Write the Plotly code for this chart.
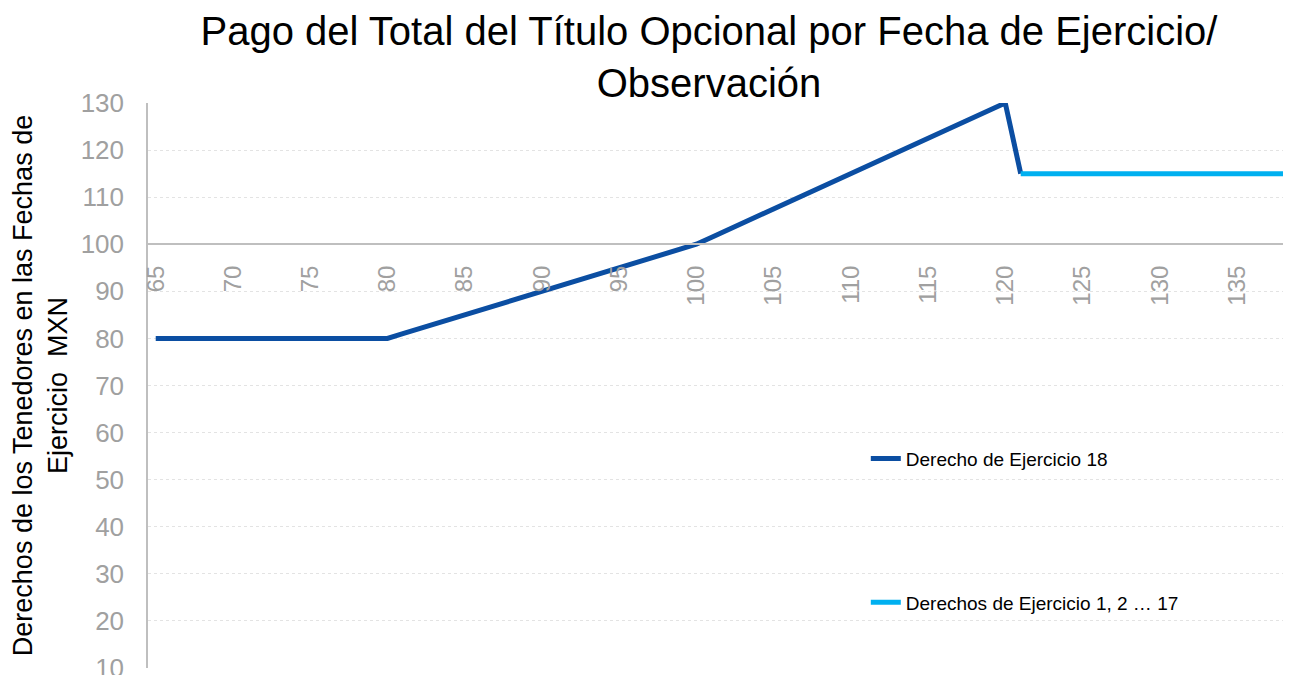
import plotly.graph_objects as go

# Data
x_dark = list(range(65, 122))
y_dark = ([80] * 16 + [81, 82, 83, 84, 85, 86, 87, 88, 89, 90, 91, 92, 93, 94, 95, 96, 97, 98, 99, 100]
          + [101.5, 103, 104.5, 106, 107.5, 109, 110.5, 112, 113.5, 115, 116.5, 118, 119.5, 121, 122.5,
             124, 125.5, 127, 128.5, 130] + [115])
x_light = list(range(121, 139))
y_light = [115] * 18
x_ticks = [65, 70, 75, 80, 85, 90, 95, 100, 105, 110, 115, 120, 125, 130, 135]
y_ticks = [10, 20, 30, 40, 50, 60, 70, 80, 90, 100, 110, 120, 130]

name_dark = "Derecho de Ejercicio 18"
name_light = "Derechos de Ejercicio 1, 2 … 17"

FONT = "Liberation Sans, Arial, sans-serif"
GRAY = "#a0a0a0"

fig = go.Figure()
fig.add_trace(go.Scatter(x=x_dark, y=y_dark, mode="lines", name=name_dark,
                         line=dict(color="#0B4EA2", width=5), legendgroup="a"))
fig.add_trace(go.Scatter(x=x_light, y=y_light, mode="lines", name=name_light,
                         line=dict(color="#00B0F0", width=5), legendgroup="b"))

W, H = 1283, 667
fig.update_layout(
    width=W, height=H, autosize=False,
    margin=dict(l=140, r=0, t=95, b=7, autoexpand=False),
    paper_bgcolor="white", plot_bgcolor="white",
    font=dict(family=FONT, color="black"),
    title=dict(text="Pago del Total del Título Opcional por Fecha de Ejercicio/<br>Observación",
               x=(709 - 8) / W, xanchor="center", y=1 - 37 / H, yanchor="top",
               font=dict(size=40, color="black", family=FONT)),
    legend=dict(x=0.628, y=0.404, xanchor="left", yanchor="top",
                font=dict(size=19, color="black", family=FONT),
                tracegroupgap=116, bgcolor="rgba(0,0,0,0)", traceorder="grouped"),
    xaxis=dict(range=[64.5, 138.5], tickmode="array", tickvals=x_ticks,
               ticktext=[str(v) for v in x_ticks], tickangle=-90,
               tickfont=dict(size=24, color=GRAY, family=FONT),
               showgrid=False, zeroline=False, showline=True, linecolor="#bfbfbf", linewidth=1.5,
               anchor="free", position=0.75, ticks="", ticklabelstandoff=11),
    yaxis=dict(range=[10, 130], tickmode="array", tickvals=y_ticks,
               tickfont=dict(size=26, color=GRAY, family=FONT),
               ticklabeloverflow="allow",
               showgrid=True, gridcolor="#e3e3e3", griddash="dot", gridwidth=1,
               zeroline=False, showline=True, linecolor="#bfbfbf", linewidth=1.5,
               ticks="", ticklabelstandoff=17,
               title=dict(text="Derechos de los Tenedores en las Fechas de<br>Ejercicio  MXN",
                          font=dict(size=27, color="black", family=FONT), standoff=10)),
)

fig.write_html("out.html")
